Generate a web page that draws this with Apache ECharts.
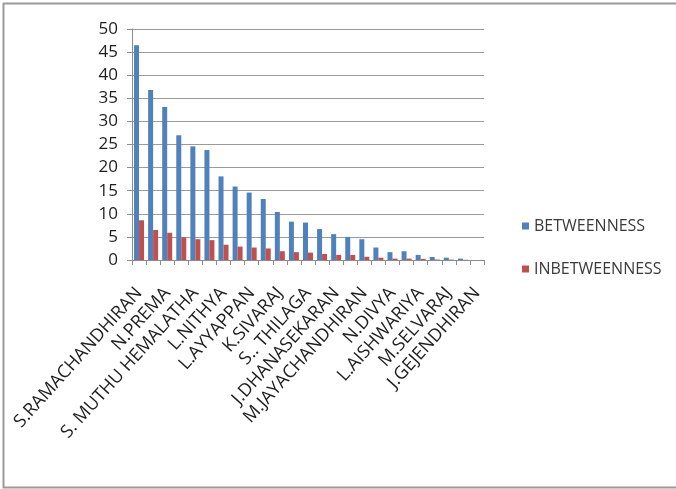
<!DOCTYPE html>
<html>
<head>
<meta charset="utf-8">
<script src="https://cdn.jsdelivr.net/npm/echarts@6/dist/echarts.min.js"></script>
<style>html,body{margin:0;padding:0;background:#fff;}#c{width:676px;height:489px;}</style>
</head>
<body>
<div id="c"></div>
<script>
var categories = ["S.RAMACHANDHIRAN","(2)","N.PREMA","(4)","S. MUTHU HEMALATHA","(6)","L.NITHYA","(8)","L.AYYAPPAN","(10)","K.SIVARAJ","(12)","S.. THILAGA","(14)","J.DHANASEKARAN","(16)","M.JAYACHANDHIRAN","(18)","N.DIVYA","(20)","L.AISHWARIYA","(22)","M.SELVARAJ","(24)","J.GEJENDHIRAN"];
var betweenness = [46.5,36.8,33.1,27.0,24.6,23.8,18.1,15.9,14.6,13.2,10.4,8.3,8.1,6.7,5.6,5.0,4.5,2.7,1.7,1.9,1.1,0.65,0.5,0.3,0];
var inbetweenness = [8.6,6.5,5.9,4.9,4.5,4.3,3.3,2.9,2.7,2.5,1.9,1.7,1.6,1.3,1.1,1.1,0.7,0.5,0.3,0.3,0.25,0.1,0.08,0.05,0];
var yTicks = {min:0, max:50, interval:5};

var chart = echarts.init(document.getElementById('c'), null, {renderer:'canvas'});
var font = '"Open Sans", sans-serif';
chart.setOption({
  animation:false,
  backgroundColor:'#ffffff',
  graphic:[{type:'rect', shape:{x:3.5,y:3.5,width:700,height:484}, style:{fill:'none', stroke:'#9a9a9a', lineWidth:2}, silent:true}],
  grid:{left:132, top:29, right:192, bottom:229, containLabel:false},
  legend:{
    orient:'vertical', left:517, top:213, itemGap:27,
    icon:'rect', itemWidth:7, itemHeight:7,
    textStyle:{fontFamily:font, fontSize:16, color:'#3a3a3a', padding:[0,0,0,0]},
    data:['BETWEENNESS','INBETWEENNESS']
  },
  xAxis:{
    type:'category', data:categories, boundaryGap:true,
    axisLine:{lineStyle:{color:'#8c8c8c', width:1}},
    axisTick:{show:true, interval:0, length:5, lineStyle:{color:'#8c8c8c'}},
    axisLabel:{interval:1, rotate:48, margin:30, fontFamily:font, fontSize:18, color:'#1e1e1e'}
  },
  yAxis:{
    type:'value', min:yTicks.min, max:yTicks.max, interval:yTicks.interval,
    axisLine:{show:true, lineStyle:{color:'#8c8c8c'}},
    axisTick:{show:true, length:5, lineStyle:{color:'#8c8c8c'}},
    axisLabel:{margin:14, fontFamily:font, fontSize:17, color:'#1e1e1e'},
    splitLine:{lineStyle:{color:'#9a9a9a', width:1}}
  },
  series:[
    {name:'BETWEENNESS', type:'bar', data:betweenness, barWidth:5, barGap:'0%', itemStyle:{color:'#4F81BD'}},
    {name:'INBETWEENNESS', type:'bar', data:inbetweenness, barWidth:5, itemStyle:{color:'#C0504D'}}
  ]
});
</script>
</body>
</html>
